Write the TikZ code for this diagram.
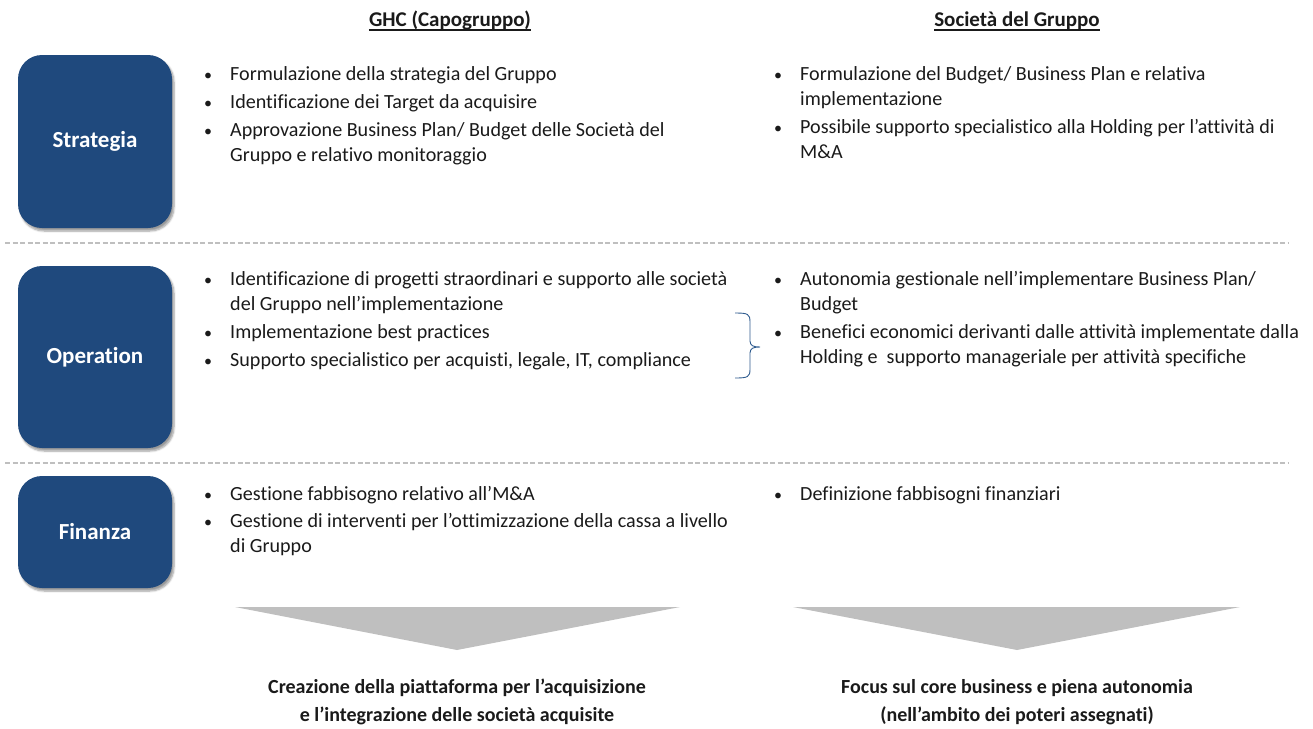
\documentclass[tikz,border=0pt]{standalone}
\usepackage{fontspec}
\setmainfont{Carlito}[Ligatures=NoCommon]
\usetikzlibrary{shadows.blur}
\definecolor{boxblue}{HTML}{1F497D}
\definecolor{txtc}{HTML}{1A1A1A}
\definecolor{grayarrow}{HTML}{BFBFBF}
\definecolor{dashc}{HTML}{BFBFBF}
\definecolor{bracec}{HTML}{2F5C8F}
\tikzset{
  rowbox/.style={fill=boxblue, rounded corners=24pt, blur shadow={shadow xshift=2pt, shadow yshift=-3pt, shadow blur steps=6, shadow opacity=40}},
  boxlabel/.style={text=white, font=\fontsize{23}{26}\selectfont\bfseries},
  txt/.style={anchor=base west, inner sep=0pt, text=txtc, font=\fontsize{20.1}{24}\selectfont},
  bul/.style={anchor=base, inner sep=0pt, text=txtc, font=\fontsize{16}{21}\selectfont},
  hdr/.style={anchor=base, inner sep=0pt, text=txtc, font=\fontsize{21}{24}\selectfont\bfseries},
  bottxt/.style={anchor=base, inner sep=0pt, text=txtc, font=\fontsize{20}{24}\selectfont\bfseries},
  sep/.style={draw=dashc, line width=1.3pt, dash pattern=on 5pt off 2.5pt},
  arrowtri/.style={fill=grayarrow, draw=none}
}
\begin{document}
\begin{tikzpicture}[x=1pt,y=-1pt]
\useasboundingbox (0,0) rectangle (1313,728);

% headers
\node[hdr] (h1) at (450,27) {GHC (Capogruppo)};
\node[hdr] (h2) at (1017,27) {Società del Gruppo};
\draw[txtc, line width=1.4pt] ([yshift=-3pt]h1.base west) -- ([yshift=-3pt]h1.base east);
\draw[txtc, line width=1.4pt] ([yshift=-3pt]h2.base west) -- ([yshift=-3pt]h2.base east);

% row boxes
\path[rowbox] (18,55) rectangle (172,228);
\node[boxlabel] (b1) at (95,141) {Strategia};
\path[rowbox] (18,266) rectangle (172,448);
\node[boxlabel] (b2) at (95,357) {Operation};
\path[rowbox] (18,476) rectangle (172,588);
\node[boxlabel] (b3) at (95,532) {Finanza};

% separators
\coordinate (d1a) at (5,243); \coordinate (d1b) at (1288,243);
\coordinate (d2a) at (5,463); \coordinate (d2b) at (1288,463);
\draw[sep] (d1a) -- (d1b);
\draw[sep] (d2a) -- (d2b);

% Strategia left
\node[bul] (sb1) at (208,80) {•};
\node[txt] (s1) at (230,80) {Formulazione della strategia del Gruppo};
\node[bul] (sb2) at (208,108) {•};
\node[txt] (s2) at (230,108) {Identificazione dei Target da acquisire};
\node[bul] (sb3) at (208,136) {•};
\node[txt] (s3) at (230,136) {Approvazione Business Plan/ Budget delle Società del};
\node[txt] (s4) at (230,161) {Gruppo e relativo monitoraggio};

% Strategia right
\node[bul] (rb1) at (778,80) {•};
\node[txt] (r1) at (800,80) {Formulazione del Budget/ Business Plan e relativa};
\node[txt] (r2) at (800,105) {implementazione};
\node[bul] (rb2) at (778,133.5) {•};
\node[txt] (r3) at (800,133.5) {Possibile supporto specialistico alla Holding per l’attività di};
\node[txt] (r4) at (800,158.5) {M\&A};

% Operation left
\node[bul] (ob1) at (208,285) {•};
\node[txt] (o1) at (230,285) {Identificazione di progetti straordinari e supporto alle società};
\node[txt] (o2) at (230,310) {del Gruppo nell’implementazione};
\node[bul] (ob2) at (208,338) {•};
\node[txt] (o3) at (230,338) {Implementazione best practices};
\node[bul] (ob3) at (208,366) {•};
\node[txt] (o4) at (230,366) {Supporto specialistico per acquisti, legale, IT, compliance};

% Operation right
\node[bul] (pb1) at (778,285) {•};
\node[txt] (p1) at (800,285) {Autonomia gestionale nell’implementare Business Plan/};
\node[txt] (p2) at (800,310) {Budget};
\node[bul] (pb2) at (778,338.5) {•};
\node[txt] (p3) at (800,338.5) {Benefici economici derivanti dalle attività implementate dalla};
\node[txt] (p4) at (800,363.5) {Holding e\ \ supporto manageriale per attività specifiche};

% brace
\coordinate (brt) at (735,313);
\coordinate (brm) at (760,347);
\coordinate (brb) at (735,378);
\draw[bracec, line width=0.9pt] (brt) .. controls (748,313) and (750,314) .. (750,322)
  -- (750,341) .. controls (750,346) and (754,347) .. (brm)
  .. controls (754,347) and (750,348) .. (750,353)
  -- (750,369) .. controls (750,377) and (748,378) .. (brb);

% Finanza left
\node[bul] (fb1) at (208,500) {•};
\node[txt] (f1) at (230,500) {Gestione fabbisogno relativo all’M\&A};
\node[bul] (fb2) at (208,527.5) {•};
\node[txt] (f2) at (230,527.5) {Gestione di interventi per l’ottimizzazione della cassa a livello};
\node[txt] (f3) at (230,552.5) {di Gruppo};

% Finanza right
\node[bul] (gb1) at (778,500) {•};
\node[txt] (g1) at (800,500) {Definizione fabbisogni finanziari};

% arrows
\coordinate (a1l) at (235,607); \coordinate (a1r) at (680,607); \coordinate (a1t) at (457,650);
\coordinate (a2l) at (793,607); \coordinate (a2r) at (1240,607); \coordinate (a2t) at (1017,650);
\path[arrowtri] (a1l) -- (a1r) -- (a1t) -- cycle;
\path[arrowtri] (a2l) -- (a2r) -- (a2t) -- cycle;

% bottom texts
\node[bottxt] (c1) at (457,693) {Creazione della piattaforma per l’acquisizione};
\node[bottxt] (c2) at (457,721) {e l’integrazione delle società acquisite};
\node[bottxt] (c3) at (1017,693) {Focus sul core business e piena autonomia};
\node[bottxt] (c4) at (1017,721) {(nell’ambito dei poteri assegnati)};
\end{tikzpicture}
\end{document}
